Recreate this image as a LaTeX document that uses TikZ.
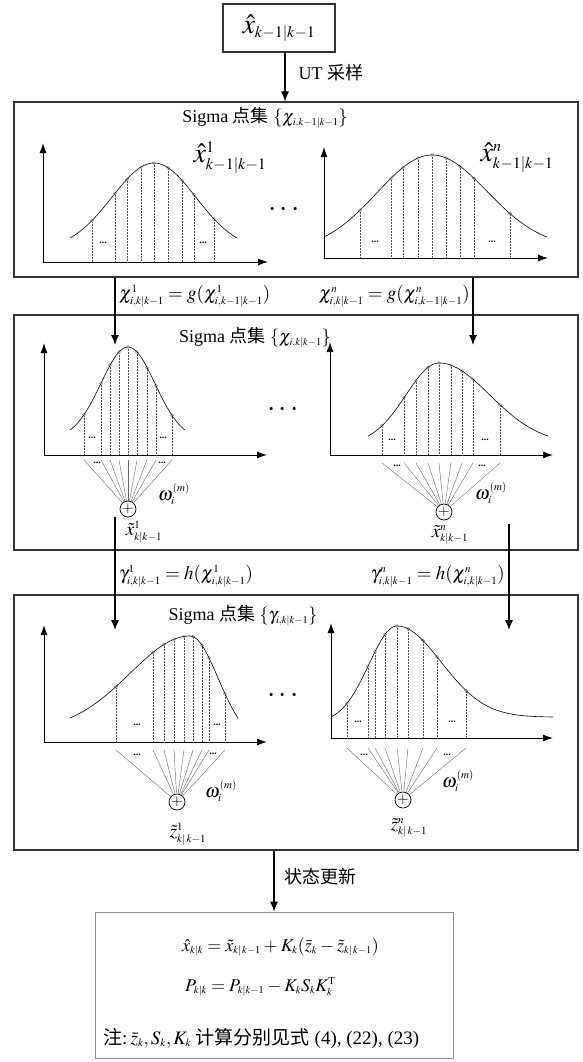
\documentclass[tikz,border=0pt]{standalone}
\usepackage{mathptmx}
\usepackage[no-math]{fontspec}
\setmainfont{Liberation Serif}
\newfontfamily\cjk{Noto Sans CJK SC}
\usetikzlibrary{arrows.meta}

\DeclareMathSizes{18}{18}{10.5}{8}
\DeclareMathSizes{19}{19}{11}{8}
\DeclareMathSizes{28}{28}{16}{12}

%curva a campana (x, centro, cima, altezza, sigma sx, larghezza sx, sigma dx, larghezza dx)
\pgfmathdeclarefunction{campana}{8}{%
  \pgfmathparse{(#1<#2) ? (#3+#4*(1-exp(-0.5*((#1-#2)/#5)*((#1-#2)/#5)))/(1-exp(-0.5*(#6/#5)*(#6/#5)))) : (#3+#4*(1-exp(-0.5*((#1-#2)/#7)*((#1-#2)/#7)))/(1-exp(-0.5*(#8/#7)*(#8/#7))))}%
}

\begin{document}
\begin{tikzpicture}[x=1pt,y=-1pt,
    font=\fontsize{18}{22}\selectfont,
    scatola/.style={draw=black!80,line width=1.1pt,inner sep=0pt},
    freccia/.style={-{Latex[length=10pt,width=8pt]},line width=1.1pt},
    asse/.style={{Latex[length=10pt,width=7pt]}-{Latex[length=10pt,width=7pt]},line width=1pt},
    curva/.style={line width=0.6pt},
    campione/.style={densely dotted,black!70,line width=0.5pt},
    ventaglio/.style={black!60,line width=0.4pt},
    punto/.style={circle,draw=black!45,fill=white,line width=0.4pt,inner sep=0pt,minimum size=3.2pt},
    somma/.style={circle,draw,line width=0.7pt,inner sep=0pt,minimum size=16pt,font=\fontsize{15}{15}\selectfont},
    puntini/.style={font=\fontsize{10}{10}\selectfont\bfseries,inner sep=0pt},
    trepunti/.style={font=\fontsize{30}{30}\selectfont,inner sep=0pt},
    grande/.style={font=\fontsize{28}{30}\selectfont,inner sep=1pt},
    formula/.style={font=\fontsize{19}{22}\selectfont,inner sep=1pt},
    etichetta/.style={font=\fontsize{19}{22}\selectfont,inner sep=1pt}]
    \medmuskip=3mu plus 1mu minus 1mu
    \thickmuskip=4mu plus 2mu
    \useasboundingbox (0,0) rectangle (583,1062);

    %riquadro iniziale
    \node[scatola,minimum width=112pt,minimum height=48pt,grande] (stima) at (279,28) {$\hat{x}_{k-1|k-1}$};
    \node[scatola,minimum width=564pt,minimum height=175pt] (box1) at (296,189.5) {};
    \node[scatola,minimum width=564pt,minimum height=235pt] (box2) at (296,432.5) {};
    \node[scatola,minimum width=564pt,minimum height=255pt] (box3) at (296,722.5) {};
    \node[draw=black!45,line width=0.8pt,minimum width=358pt,minimum height=146pt] (agg) at (274,985) {};

    \draw[freccia] ([xshift=6pt]stima.south) -- ([xshift=6pt]stima.south |- box1.north);
    \node[anchor=west] (ut) at (295,73) {UT {\cjk 采样}};

    %primo insieme sigma
    \node (tit1) at (265,118) {Sigma {\cjk 点集} $\{\chi_{i,k-1|k-1}\}$};
    \node[grande] (xa) at (230,158) {$\hat{x}^{1}_{k-1|k-1}$};
    \node[grande] (xb) at (517,158) {$\hat{x}^{n}_{k-1|k-1}$};
    \node[trepunti] (pp1) at (284,210) {$\cdots$};

    \draw[asse] (43,143) |- (268,262);
    \foreach \xx [count=\i] in {92,115,127,141,154,168,182,194,214}{
        \pgfmathsetmacro\yy{campana(\xx,154,163,75,42,84,42,83)}
        \draw[campione] (\xx,\yy) -- (\xx,262);
        \node[punto] (a\i) at (\xx,\yy) {};
    }
    \draw[curva] plot[domain=70:237,samples=80,smooth] (\x,{campana(\x,154,163,75,42,84,42,83)});
    \node[puntini] (da1) at (103,243) {...};
    \node[puntini] (da2) at (203,243) {...};

    \draw[asse] (324,147) |- (548,258);
    \foreach \xx [count=\i] in {360,391,403,418,432,446,460,474,510}{
        \pgfmathsetmacro\yy{campana(\xx,432,155,82,55,108,55,115)}
        \draw[campione] (\xx,\yy) -- (\xx,258);
        \node[punto] (b\i) at (\xx,\yy) {};
    }
    \draw[curva] plot[domain=324:547,samples=90,smooth] (\x,{campana(\x,432,155,82,55,108,55,115)});
    \node[puntini] (db1) at (375,242) {...};
    \node[puntini] (db2) at (492,242) {...};

    %passaggio g
    \coordinate (g1) at (115,345);
    \coordinate (g2) at (473,345);
    \draw[freccia] (box1.south -| g1) -- (g1);
    \draw[freccia] (box1.south -| g2) -- (g2);
    \node[formula,anchor=west] (f1) at (118,296) {$\chi^{1}_{i,k|k-1}=g(\chi^{1}_{i,k-1|k-1})$};
    \node[formula,anchor=east] (f2) at (471,296) {$\chi^{n}_{i,k|k-1}=g(\chi^{n}_{i,k-1|k-1})$};

    %secondo insieme sigma
    \node (tit2) at (255,338) {Sigma {\cjk 点集} $\{\chi_{i,k|k-1}\}$};
    \node[trepunti] (pp2) at (283,410) {$\cdots$};

    \draw[asse] (44,343) |- (267,455);
    \node[somma] (s1) at (128,509) {$+$};
    \foreach \xx [count=\i] in {84,101,110,119,128,137,147,156,172}{
        \pgfmathsetmacro\yy{campana(\xx,128,347,83,27,58,27,57)}
        \draw[campione] (\xx,\yy) -- (\xx,455);
        \node[punto] (c\i) at (\xx,\yy) {};
        \draw[ventaglio] (\xx,460) -- (s1);
    }
    \draw[curva] plot[domain=70:185,samples=80,smooth] (\x,{campana(\x,128,347,83,27,58,27,57)});
    \node[puntini] (dc1) at (92,438) {...};
    \node[puntini] (dc2) at (163,438) {...};
    \node[puntini] (dc3) at (97,463) {...};
    \node[puntini] (dc4) at (162,463) {...};
    \node[etichetta] (w1) at (174,494) {$\omega_i^{(m)}$};
    \node[etichetta] (xt1) at (144,532) {$\tilde{x}^{1}_{k|k-1}$};

    \draw[asse] (330,342) |- (553,455);
    \node[somma] (s2) at (444,512) {$+$};
    \foreach \xx [count=\i] in {382,404,416,428,439,451,462,473,500}{
        \pgfmathsetmacro\yy{campana(\xx,439,363,73,33,71,50.7,109)}
        \draw[campione] (\xx,\yy) -- (\xx,455);
        \node[punto] (d\i) at (\xx,\yy) {};
        \draw[ventaglio] (\xx,463) -- (s2);
    }
    \draw[curva] plot[domain=368:548,samples=90,smooth] (\x,{campana(\x,439,363,73,33,71,50.7,109)});
    \node[puntini] (dd1) at (392,440) {...};
    \node[puntini] (dd2) at (485,440) {...};
    \node[puntini] (dd3) at (397,466) {...};
    \node[puntini] (dd4) at (482,466) {...};
    \node[etichetta] (w2) at (491,493) {$\omega_i^{(m)}$};
    \node[etichetta] (xt2) at (450,535) {$\tilde{x}^{n}_{k|k-1}$};

    %passaggio h
    \coordinate (h1) at (115,630);
    \coordinate (h2) at (509,630);
    \draw[freccia] (s1.south -| h1) -- (h1);
    \draw[freccia] (xt2.north -| h2) -- (h2);
    \node[formula,anchor=west] (f3) at (118,576) {$\gamma^{1}_{i,k|k-1}=h(\chi^{1}_{i,k|k-1})$};
    \node[formula,anchor=east] (f4) at (506,576) {$\gamma^{n}_{i,k|k-1}=h(\chi^{n}_{i,k|k-1})$};

    %terzo insieme sigma
    \node (tit3) at (243,616) {Sigma {\cjk 点集} $\{\gamma_{i,k|k-1}\}$};
    \node[trepunti] (pp3) at (283,696) {$\cdots$};

    \draw[asse] (44,625) |- (267,742);
    \node[somma] (s3) at (177,802) {$+$};
    \foreach \xx [count=\i] in {116,153,164,174,184,193,202,209,225}{
        \pgfmathsetmacro\yy{campana(\xx,190,636,82,60,120,28,48)}
        \draw[campione] (\xx,\yy) -- (\xx,742);
        \node[punto] (e\i) at (\xx,\yy) {};
        \draw[ventaglio] (\xx,750) -- (s3);
    }
    \draw[curva] plot[domain=70:238,samples=90,smooth] (\x,{campana(\x,190,636,82,60,120,28,48)});
    \node[puntini] (de1) at (137,725) {...};
    \node[puntini] (de2) at (217,725) {...};
    \node[puntini] (de3) at (137,755) {...};
    \node[puntini] (de4) at (213,754) {...};
    \node[etichetta] (w3) at (221,791) {$\omega_i^{(m)}$};
    \node[etichetta] (zt1) at (188,834) {$\tilde{z}^{1}_{k|\,k-1}$};

    \draw[asse] (331,623) |- (553,738);
    \node[somma] (s4) at (403,800) {$+$};
    \foreach \xx [count=\i] in {347,368,375,385,397,408,423,437,466}{
        \pgfmathsetmacro\yy{campana(\xx,397,626,91,28,66,44,156)}
        \draw[campione] (\xx,\yy) -- (\xx,738);
        \node[punto] (f\i) at (\xx,\yy) {};
        \draw[ventaglio] (\xx,748) -- (s4);
    }
    \draw[curva] plot[domain=331:553,samples=100,smooth] (\x,{campana(\x,397,626,91,28,66,44,156)});
    \node[puntini] (df1) at (358,722) {...};
    \node[puntini] (df2) at (452,722) {...};
    \node[puntini] (df3) at (364,755) {...};
    \node[puntini] (df4) at (447,755) {...};
    \node[etichetta] (w4) at (458,781) {$\omega_i^{(m)}$};
    \node[etichetta] (zt2) at (409,828) {$\tilde{z}^{n}_{k|\,k-1}$};

    %aggiornamento
    \draw[freccia] (box3.south -| agg.north) -- (agg.north);
    \node[anchor=west] (agt) at (281,877) {\cjk 状态更新};
    \node[anchor=west,inner sep=0pt] (eq1) at (182,947) {$\hat{x}_{k|k}=\tilde{x}_{k|\,k-1}+K_k(\bar{z}_k-\tilde{z}_{k|\,k-1})$};
    \node[anchor=west,inner sep=0pt] (eq2) at (185,987) {$P_{k|k}=P_{k|k-1}-K_kS_kK_k^{\mathrm{T}}$};
    \node[formula,anchor=west,inner sep=0pt] (eq3) at (103,1038) {{\cjk 注}:\,$\bar{z}_k,S_k,K_k$ {\cjk 计算分别见式} (4), (22), (23)};
\end{tikzpicture}
\end{document}
